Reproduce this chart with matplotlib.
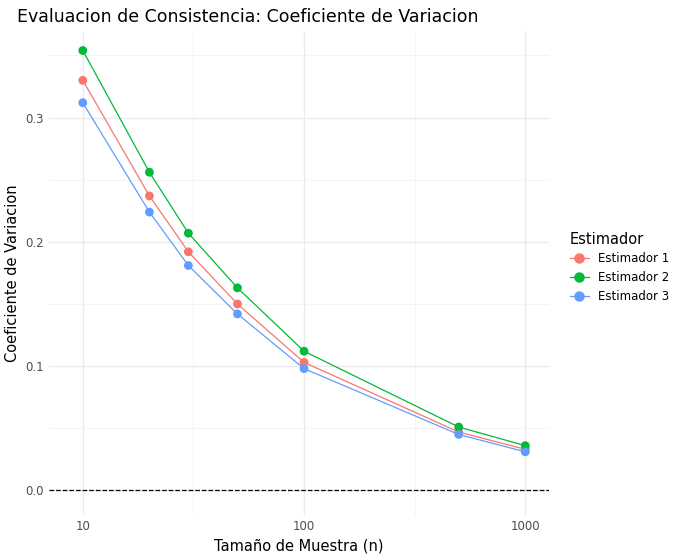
import matplotlib.pyplot as plt
from matplotlib.lines import Line2D

n = [10, 20, 30, 50, 100, 500, 1000]
est1 = [0.330, 0.237, 0.192, 0.150, 0.103, 0.047, 0.033]
est2 = [0.354, 0.256, 0.207, 0.163, 0.112, 0.051, 0.036]
est3 = [0.312, 0.224, 0.181, 0.142, 0.098, 0.045, 0.031]
names = ["Estimador 1", "Estimador 2", "Estimador 3"]
colors = ["#F8766D", "#00BA38", "#619CFF"]

fig = plt.figure(figsize=(6.82, 5.57), dpi=100)
ax = fig.add_axes([0.072, 0.075, 0.733, 0.87])
for vals, name, c in zip([est1, est2, est3], names, colors):
    ax.plot(n, vals, color=c, lw=0.9)
    ax.scatter(n, vals, color=c, s=40, zorder=3, edgecolors="none")
ax.axhline(0, color="black", ls="--", lw=0.9)
ax.set_xscale("log")
ax.set_xlim(10 / 1.42, 1000 * 1.28)
ax.set_ylim(-0.02, 0.37)
ax.set_xticks([10, 100, 1000])
ax.set_xticklabels(["10", "100", "1000"])
ax.set_xticks([31.6, 316], minor=True)
ax.set_xticklabels([], minor=True)
ax.set_yticks([0.0, 0.1, 0.2, 0.3])
ax.set_yticklabels(["0.0", "0.1", "0.2", "0.3"])
ax.set_yticks([0.05, 0.15, 0.25, 0.35], minor=True)
ax.grid(True, which="major", color="#EBEBEB", lw=1.0)
ax.grid(True, which="minor", color="#F2F2F2", lw=0.6)
ax.set_axisbelow(True)
for s in ax.spines.values():
    s.set_visible(False)
ax.tick_params(which="both", length=0, labelsize=8.5, labelcolor="#4D4D4D")
ax.set_xlabel("Tamaño de Muestra (n)", fontsize=10.5)
ax.set_ylabel("Coeficiente de Variacion", fontsize=10.5)
ax.set_title("Evaluacion de Consistencia: Coeficiente de Variacion", fontsize=12.5, loc="left", x=-0.065)
handles = [Line2D([], [], color=c, marker="o", markersize=6.5, lw=0.9) for c in colors]
fig.legend(handles, names, title="Estimador", loc="center left", bbox_to_anchor=(0.82, 0.52),
           frameon=False, fontsize=8.5, title_fontsize=10.5, handlelength=1.6, alignment="left")
fig.savefig("out.png")
